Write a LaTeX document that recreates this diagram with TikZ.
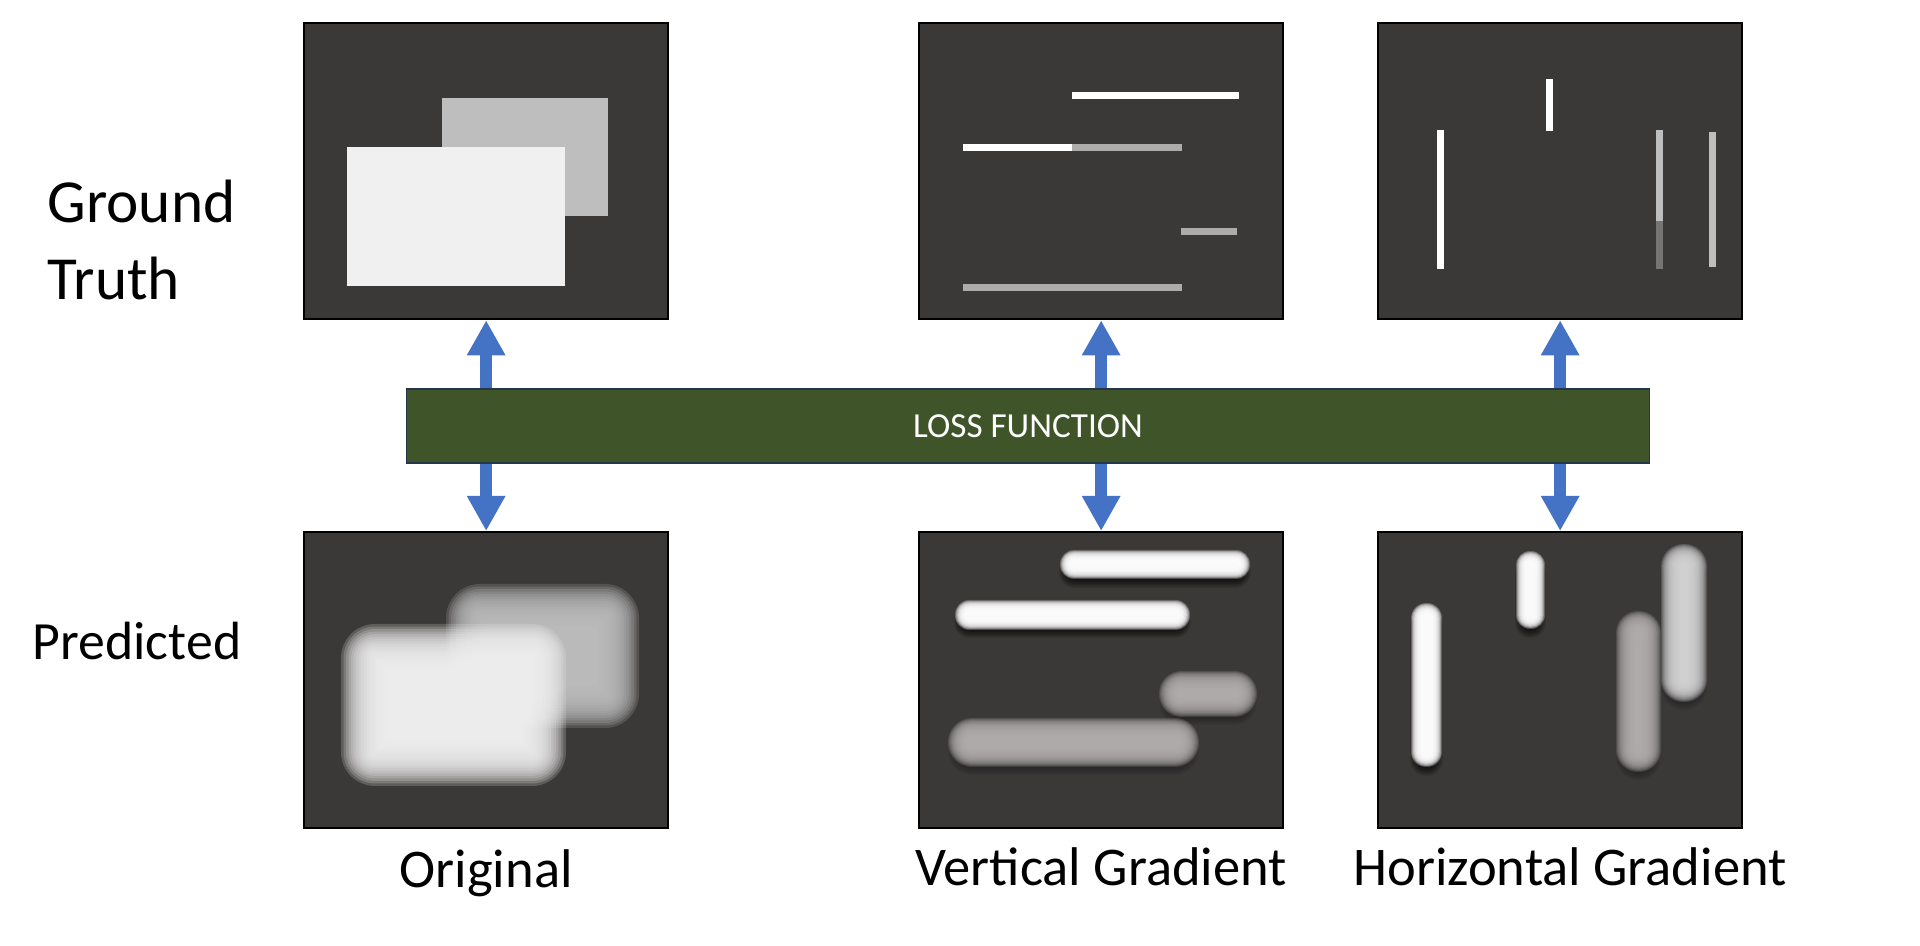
\documentclass[tikz,border=0pt]{standalone}
\usepackage{fontspec}
\setmainfont{Carlito}
\usepackage{tikz}
\usetikzlibrary{arrows.meta,positioning}
\definecolor{panel}{HTML}{3B3838}
\definecolor{lossgreen}{HTML}{3F5529}
\definecolor{lossedge}{HTML}{24364A}
\definecolor{arrowblue}{HTML}{4472C4}
\definecolor{paper}{HTML}{F0F0F0}
\definecolor{lightgrey}{HTML}{BEBEBE}
\definecolor{midgrey}{HTML}{AEABAB}
\definecolor{blurgrey}{HTML}{B2AEAE}
\definecolor{lowgrey}{HTML}{777474}
\definecolor{fadegrey}{HTML}{D4D4D4}
\tikzstyle{panelbox}=[draw=black, line width=0.6pt, fill=panel, minimum width=3.64cm, minimum height=2.96cm, inner sep=0pt, anchor=north west]
\tikzstyle{lossbar}=[draw=lossedge, line width=0.3pt, fill=lossgreen, text=white, minimum width=12.43cm, minimum height=0.74cm, font=\fontsize{10}{12}\selectfont]
\tikzstyle{twoway}=[draw=arrowblue, line width=0.116cm, -{Triangle[width=0.36cm,length=0.35cm]}]
\tikzstyle{caption}=[font=\fontsize{15.5}{18}\selectfont, anchor=base, inner sep=0pt]
\tikzstyle{rowlabel}=[anchor=base west, inner sep=0pt, align=left]
\newcommand{\softrect}[7]{%
	% options, left, top, right, bottom (px), blur radius, corner rounding
	\foreach \k in {0,...,19}{
		\pgfmathsetmacro{\spread}{#6*(1-\k/9.5)}
		\pgfmathsetmacro{\crn}{max(#7+\spread,0.5)}
		\fill[fill opacity=0.2, #1, rounded corners=\crn*0.01cm]
		(#2-\spread,#3-\spread) rectangle (#4+\spread,#5+\spread);
	}
}
\newcommand{\softpill}[6]{%
	% same as above, ends fully rounded
	\pgfmathsetmacro{\half}{min(#4-#2,#5-#3)/2-0.5}
	\softrect{#1}{#2}{#3}{#4}{#5}{#6}{\half}
}

\begin{document}
\begin{tikzpicture}[x=0.01cm, y=-0.01cm]
	\useasboundingbox[fill=white] (0,0) rectangle (1920,946);

	% row labels
	\node[rowlabel, font=\fontsize{17.4}{21.9}\selectfont] (gtlabel) at (47,300) {Ground\\Truth};
	\node[rowlabel, font=\fontsize{15.3}{18}\selectfont] (predlabel) at (32,660) {Predicted};

	% ground truth panels
	\node[panelbox] (gt1) at (303,22) {};
	\node[panelbox] (gt2) at (918,22) {};
	\node[panelbox] (gt3) at (1377,22) {};

	\fill[lightgrey] (442,98) rectangle (608,216);
	\fill[paper] (347,147) rectangle (565,286);

	\fill[white] (1072,92) rectangle (1239,99);
	\fill[white] (963,144) rectangle (1072,151);
	\fill[midgrey] (1072,144) rectangle (1182,151);
	\fill[midgrey] (1181,228) rectangle (1237,235);
	\fill[midgrey] (963,284) rectangle (1182,291);

	\fill[white] (1437,130) rectangle (1444,269);
	\fill[white] (1546,79) rectangle (1553,131);
	\fill[lightgrey] (1656,130) rectangle (1663,221);
	\fill[lowgrey] (1656,221) rectangle (1663,269);
	\fill[lightgrey] (1709,132) rectangle (1716,267);

	% predicted panels
	\node[panelbox] (pr1) at (303,531) {};
	\node[panelbox] (pr2) at (918,531) {};
	\node[panelbox] (pr3) at (1377,531) {};

	\softrect{lightgrey}{470}{608}{615}{704}{24}{10}
	\softrect{paper}{365}{648}{542}{762}{24}{10}

	\softpill{black, fill opacity=0.06}{1065}{562}{1245}{582}{6}
	\softpill{white}{1065}{555}{1245}{574}{5}
	\softpill{black, fill opacity=0.06}{960}{612}{1185}{632}{6}
	\softpill{white}{960}{605}{1185}{625}{5}
	\softpill{black, fill opacity=0.04}{1169}{689}{1247}{715}{10}
	\softpill{blurgrey}{1169}{681}{1247}{707}{10}
	\softpill{black, fill opacity=0.04}{958}{736}{1189}{765}{10}
	\softpill{blurgrey}{958}{728}{1189}{757}{10}

	\softpill{black, fill opacity=0.06}{1416}{616}{1437}{770}{6}
	\softpill{white}{1416}{608}{1437}{762}{5}
	\softpill{black, fill opacity=0.06}{1521}{564}{1540}{632}{6}
	\softpill{white}{1521}{556}{1540}{624}{5}
	\softpill{black, fill opacity=0.04}{1671}{562}{1697}{700}{10}
	\softpill{fadegrey}{1671}{554}{1697}{692}{10}
	\softpill{black, fill opacity=0.04}{1626}{629}{1651}{770}{10}
	\softpill{blurgrey}{1626}{621}{1651}{762}{10}

	% loss function and arrows
	\node[lossbar] (loss) at (1028,426) {LOSS FUNCTION};
	\draw[twoway] (gt1.south |- loss.north) -- (gt1.south);
	\draw[twoway] (gt2.south |- loss.north) -- (gt2.south);
	\draw[twoway] (gt3.south |- loss.north) -- (gt3.south);
	\draw[twoway] (pr1.north |- loss.south) -- (pr1.north);
	\draw[twoway] (pr2.north |- loss.south) -- (pr2.north);
	\draw[twoway] (pr3.north |- loss.south) -- (pr3.north);

	% captions
	\node[caption] (origcap) at ([yshift=-0.58cm]pr1.south) {Original};
	\node[caption] (vertcap) at ([yshift=-0.56cm]pr2.south) {Vertical Gradient};
	\node[caption] (horzcap) at ([xshift=0.1cm,yshift=-0.56cm]pr3.south) {Horizontal Gradient};
\end{tikzpicture}
\end{document}
